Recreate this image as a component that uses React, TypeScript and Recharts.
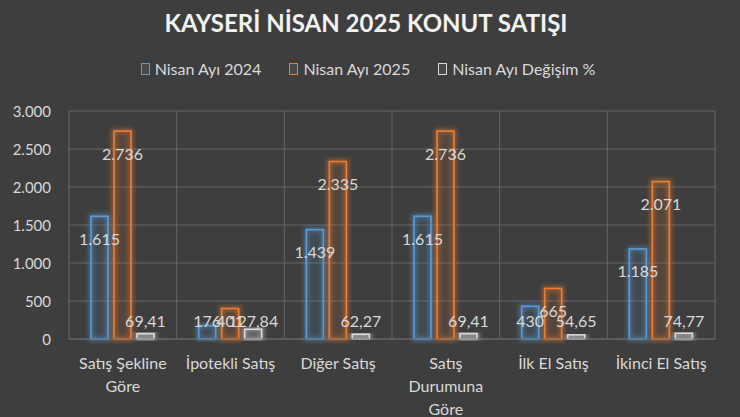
import React from "react";
import {
  BarChart,
  Bar,
  XAxis,
  YAxis,
  CartesianGrid,
  Legend,
  LabelList,
} from "recharts";

const categories = [
  "Satış Şekline\nGöre",
  "İpotekli Satış",
  "Diğer Satış",
  "Satış\nDurumuna\nGöre",
  "İlk El Satış",
  "İkinci El Satış",
];
const sales2024 = [1615, 176, 1439, 1615, 430, 1185];
const sales2025 = [2736, 401, 2335, 2736, 665, 2071];
const changePct = [69.41, 127.84, 62.27, 69.41, 54.65, 74.77];
const yTicks = [0, 500, 1000, 1500, 2000, 2500, 3000];

const data = categories.map((name, i) => ({
  name,
  y2024: sales2024[i],
  y2025: sales2025[i],
  change: changePct[i],
}));

const series = [
  { key: "y2024", name: "Nisan Ayı 2024", color: "#5b9bd5", decimals: false },
  { key: "y2025", name: "Nisan Ayı 2025", color: "#ed7d31", decimals: false },
  { key: "change", name: "Nisan Ayı Değişim %", color: "#d9d9d9", decimals: true },
];

const BG = "#3e3e3e";
const TEXT = "#d9d9d9";
const FONT = "Lato, 'Open Sans', sans-serif";

const fmtInt = (n: number) =>
  Math.round(n).toString().replace(/\B(?=(\d{3})+(?!\d))/g, ".");
const fmtDec = (n: number) => n.toFixed(2).replace(".", ",");

const GlowBar = (props: any) => {
  const { x, y, width, height, color } = props;
  if (height == null || width == null) return null;
  return (
    <g>
      <rect
        x={x + 1}
        y={y}
        width={width - 2}
        height={height}
        fill={color}
        fillOpacity={0.12}
        stroke={color}
        strokeWidth={5}
        strokeOpacity={0.45}
        filter="url(#glow)"
      />
      <rect
        x={x + 1}
        y={y}
        width={width - 2}
        height={height}
        fill="none"
        stroke={color}
        strokeWidth={1.6}
      />
    </g>
  );
};

const makeLabel = (decimals: boolean) => (props: any) => {
  const { x, y, width, height, value } = props;
  const ly = Math.min(y + 22, y + height - 19);
  return (
    <text
      x={x + width / 2}
      y={ly}
      textAnchor="middle"
      dominantBaseline="central"
      fill={TEXT}
      fontSize={16}
      fontFamily={FONT}
    >
      {decimals ? fmtDec(value) : fmtInt(value)}
    </text>
  );
};

const XTick = (props: any) => {
  const { x, y, payload } = props;
  const lines = String(payload.value).split("\n");
  return (
    <g>
      {lines.map((line, i) => (
        <text
          key={i}
          x={x}
          y={y + 23 + i * 23}
          textAnchor="middle"
          dominantBaseline="central"
          fill={TEXT}
          fontSize={16}
          fontFamily={FONT}
        >
          {line}
        </text>
      ))}
    </g>
  );
};

const YTick = (props: any) => {
  const { x, y, payload } = props;
  return (
    <text
      x={x - 18}
      y={y}
      textAnchor="end"
      dominantBaseline="central"
      fill={TEXT}
      fontSize={15}
      fontFamily={FONT}
    >
      {fmtInt(payload.value)}
    </text>
  );
};

const LegendContent = () => (
  <div
    style={{
      display: "flex",
      justifyContent: "center",
      gap: 28,
      fontFamily: FONT,
      fontSize: 16,
      color: TEXT,
      marginLeft: -4,
    }}
  >
    {series.map((s) => (
      <div key={s.key} style={{ display: "flex", alignItems: "center", gap: 5 }}>
        <span
          style={{
            display: "inline-block",
            width: 7,
            height: 10,
            border: `1.5px solid ${s.color}`,
            background: "rgba(255,255,255,0.06)",
          }}
        />
        <span>{s.name}</span>
      </div>
    ))}
  </div>
);

export default function App() {
  return (
    <div
      style={{
        position: "absolute",
        left: 0,
        top: 0,
        width: 740,
        height: 417,
        background: BG,
        overflow: "hidden",
      }}
    >
      <div
        style={{
          position: "absolute",
          top: 8,
          left: 0,
          width: 740,
          textAlign: "center",
          fontFamily: FONT,
          fontWeight: 700,
          fontSize: 24,
          color: "#f2f2f2",
          marginLeft: -4,
        }}
      >
        KAYSERİ NİSAN 2025 KONUT SATIŞI
      </div>
      <BarChart
        width={740}
        height={417}
        data={data}
        margin={{ top: 111, right: 25, bottom: 48, left: 0 }}
        barCategoryGap="18%"
        barGap={4}
      >
        <defs>
          <filter id="glow" x="-50%" y="-20%" width="200%" height="140%">
            <feGaussianBlur stdDeviation="2" />
          </filter>
        </defs>
        <CartesianGrid
          stroke="#666666"
          strokeWidth={1}
          verticalCoordinatesGenerator={({ offset }: any) =>
            categories
              .map((_, i) => offset.left + (i * offset.width) / categories.length)
              .concat([offset.left + offset.width])
          }
        />
        <XAxis
          dataKey="name"
          height={30}
          interval={0}
          tickLine={false}
          axisLine={{ stroke: "#666666" }}
          tickSize={0}
          tickMargin={0}
          tick={<XTick />}
        />
        <YAxis
          width={69}
          domain={[0, 3000]}
          ticks={yTicks}
          axisLine={false}
          tickLine={false}
          tickSize={0}
          tickMargin={0}
          tick={<YTick />}
        />
        <Legend
          layout="horizontal"
          verticalAlign="middle"
          align="center"
          wrapperStyle={{ top: 59, left: 0, width: 740 }}
          content={<LegendContent />}
        />
        {series.map((s) => (
          <Bar
            key={s.key}
            dataKey={s.key}
            name={s.name}
            barSize={19}
            isAnimationActive={false}
            shape={(p: any) => <GlowBar {...p} color={s.color} />}
          >
            <LabelList dataKey={s.key} content={makeLabel(s.decimals)} />
          </Bar>
        ))}
      </BarChart>
    </div>
  );
}
